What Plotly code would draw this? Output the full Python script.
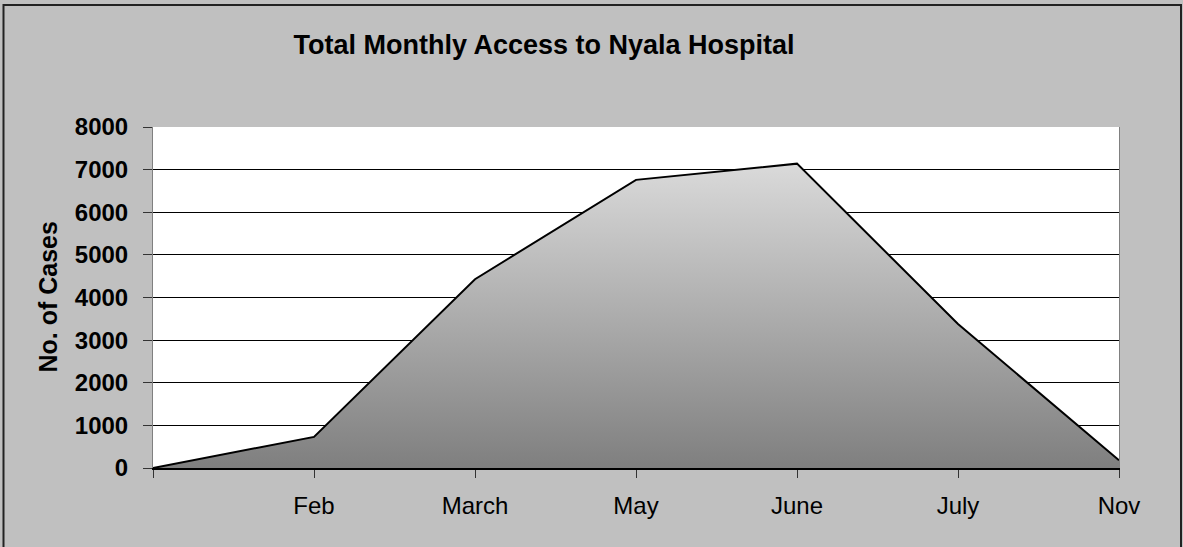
import plotly.graph_objects as go

categories = ["", "Feb", "March", "May", "June", "July", "Nov"]
cases = [0, 730, 4430, 6760, 7140, 3380, 180]
y_ticks = [0, 1000, 2000, 3000, 4000, 5000, 6000, 7000, 8000]

W, H = 1183, 547
L, R, T, B = 153, 64, 127, 79
PW, PH = W - L - R, H - T - B
FONT = "Liberation Sans, Arial, sans-serif"

def px_x(px):
    return (px - L) / PW

def px_y(py):
    return (H - B - py) / PH

xs = list(range(len(categories)))

fig = go.Figure()
fig.add_trace(go.Scatter(
    x=xs, y=cases, mode="lines", fill="tozeroy",
    line=dict(color="black", width=2),
    fillgradient=dict(type="vertical",
                      colorscale=[[0, "#7f7f7f"], [1, "#dadada"]],
                      start=0, stop=max(cases)),
    hoverinfo="skip", showlegend=False,
))

fig.update_layout(
    width=W, height=H,
    margin=dict(l=L, r=R, t=T, b=B),
    paper_bgcolor="#c0c0c0",
    plot_bgcolor="white",
    font=dict(family=FONT, color="black"),
    title=dict(text="<b>Total Monthly Access to Nyala Hospital</b>",
               x=544 / W, xanchor="center", xref="container",
               y=1 - 45 / H, yanchor="middle", yref="container",
               font=dict(size=27, family=FONT, color="black")),
    xaxis=dict(range=[0, len(categories) - 1], tickmode="array",
               tickvals=xs, ticktext=categories,
               ticks="outside", ticklen=8, tickcolor="#333333", tickwidth=1,
               showgrid=False, zeroline=False,
               showline=True, linecolor="black", linewidth=2,
               tickfont=dict(size=24, family=FONT),
               ticklabelstandoff=7, fixedrange=True),
    yaxis=dict(range=[0, 8000], tickmode="array", tickvals=y_ticks,
               ticks="outside", ticklen=9, tickcolor="#333333", tickwidth=1,
               showgrid=True, gridcolor="black", gridwidth=1,
               zeroline=False, showline=True, linecolor="#808080", linewidth=1,
               mirror=True,
               tickfont=dict(size=24, family=FONT, weight="bold"),
               ticklabelstandoff=10, fixedrange=True),
    annotations=[dict(text="<b>No. of Cases</b>", textangle=-90,
                      xref="paper", yref="paper", x=px_x(47), y=0.5,
                      xanchor="center", yanchor="middle", showarrow=False,
                      font=dict(size=25, family=FONT, color="black"))],
    shapes=[dict(type="rect", xref="paper", yref="paper",
                 x0=px_x(3.5), x1=px_x(1181), y0=px_y(560), y1=px_y(5),
                 line=dict(color="#222222", width=2), layer="below")],
)

fig.write_html("out.html",
               config={"displayModeBar": False},
               post_script="document.body.style.margin='0';document.body.style.overflow='hidden';")
